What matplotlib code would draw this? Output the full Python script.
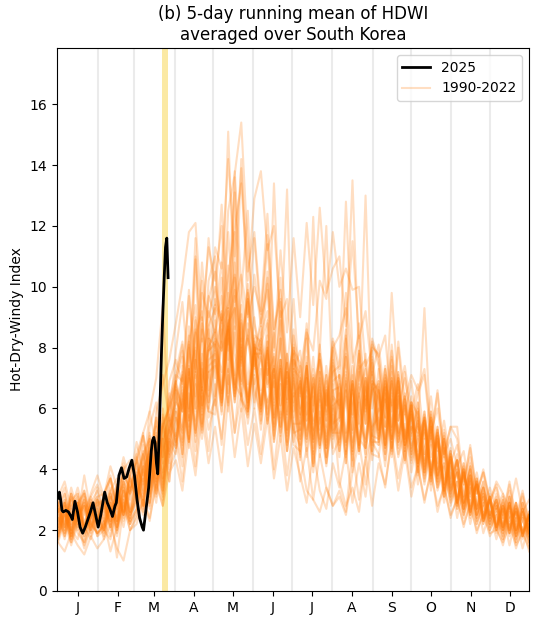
import numpy as np
import matplotlib
matplotlib.use("Agg")
import matplotlib.pyplot as plt

# 2025 HDWI (5-day running mean), day of year -> value
obs_days = [1, 2, 3, 4, 5, 7, 9, 11, 12, 14, 16, 18, 20, 22, 24, 26, 28, 30, 32, 34,
            37, 39, 41, 43, 45, 46, 48, 50, 52, 54, 56, 58, 60, 62, 64, 66, 67, 69, 71,
            73, 74, 75, 76, 77, 78, 79, 80, 81, 82, 83, 84, 85, 86]
obs_2025 = [3.05, 3.25, 3.0, 2.65, 2.6, 2.65, 2.6, 2.45, 2.35, 2.95, 2.6, 2.1, 1.9, 2.1,
            2.35, 2.6, 2.9, 2.5, 2.1, 2.5, 3.25, 2.9, 2.7, 2.45, 2.8, 2.9, 3.8, 4.05, 3.7,
            3.75, 4.05, 4.3, 3.8, 3.0, 2.4, 2.1, 2.0, 2.7, 3.4, 4.6, 4.95, 5.05, 4.85, 4.2,
            3.85, 5.0, 6.5, 8.0, 9.2, 10.3, 11.3, 11.6, 10.3]

# 1990-2022 series, one value every ~5 days (Jan .. Dec)
hdwi_1990 = [2.3, 2.9, 2.0, 1.7, 2.6, 3.1, 2.4, 2.0, 3.0, 3.5, 2.4, 3.8, 2.9, 4.3, 5.1, 3.6, 5.8, 4.4,
             6.6, 4.9, 8.1, 6.0, 9.0, 6.2, 8.4, 10.3, 6.5, 11.8, 5.9, 8.8, 6.6, 5.8, 8.4, 5.0, 7.6, 4.6, 6.9,
             4.4, 7.3, 4.1, 6.8, 4.8, 7.5, 6.4, 4.2, 7.1, 4.8, 7.8, 5.1, 6.9, 4.5, 7.4, 5.3, 4.3, 6.2,
             5.8, 3.9, 5.6, 3.6, 4.9, 3.1, 4.3, 2.7, 3.8, 2.4, 3.4, 2.2, 3.1, 2.0, 2.9, 1.8, 2.7, 2.0]
hdwi_1991 = [2.8, 2.1, 3.2, 2.6, 1.9, 2.4, 3.0, 2.3, 1.8, 2.9, 3.6, 2.7, 3.9, 2.8, 4.6, 5.6, 4.0, 6.5,
             4.8, 7.4, 5.6, 8.5, 5.9, 8.7, 9.3, 6.6, 10.7, 7.8, 6.8, 9.6, 6.0, 8.1, 5.5, 7.3, 4.9, 7.8, 5.3,
             6.9, 4.4, 6.0, 7.9, 12.0, 6.4, 4.4, 6.6, 3.9, 5.8, 7.0, 4.6, 6.1, 7.4, 5.0, 8.2, 6.3, 7.1,
             6.6, 7.3, 5.2, 6.0, 4.5, 5.0, 4.1, 4.6, 3.2, 3.9, 2.8, 3.4, 2.7, 3.2, 2.3, 2.9, 1.9, 2.5]
hdwi_1992 = [3.1, 3.6, 2.7, 3.4, 2.5, 3.2, 3.8, 3.1, 4.1, 3.4, 4.4, 3.6, 4.9, 3.8, 5.9, 4.7, 7.1, 5.6,
             7.9, 9.5, 7.1, 11.0, 8.2, 11.6, 9.4, 12.7, 9.3, 13.8, 10.0, 8.1, 10.4, 8.7, 10.3, 7.2, 9.5, 6.3, 8.4,
             7.2, 8.6, 5.9, 7.8, 6.1, 8.2, 7.0, 8.6, 5.8, 7.9, 6.0, 8.3, 7.6, 5.7, 9.8, 6.5, 7.4, 5.9,
             6.8, 5.0, 6.4, 4.6, 5.6, 4.2, 4.8, 3.6, 4.4, 3.2, 3.9, 2.9, 3.6, 3.2, 2.7, 3.7, 2.6, 3.0]
hdwi_1993 = [1.6, 1.3, 1.9, 1.5, 1.2, 1.8, 1.4, 1.7, 2.2, 1.4, 1.0, 2.0, 2.2, 3.0, 2.4, 3.5, 2.8, 3.9,
             4.3, 3.3, 5.1, 3.8, 5.8, 4.2, 5.4, 3.9, 6.4, 4.4, 6.0, 4.1, 5.5, 4.2, 5.7, 3.7, 5.1, 3.3, 4.7,
             3.8, 2.9, 4.6, 3.3, 2.7, 4.2, 3.4, 4.6, 2.9, 4.2, 3.1, 4.9, 4.5, 3.4, 5.1, 3.7, 4.8, 3.4,
             4.1, 3.0, 3.9, 2.8, 3.4, 2.5, 3.0, 2.2, 2.8, 2.0, 2.5, 1.9, 2.0, 1.6, 2.2, 1.5, 1.9, 1.4]
hdwi_1994 = [2.4, 1.9, 2.7, 2.1, 2.8, 2.0, 2.5, 2.9, 2.1, 3.2, 2.5, 3.4, 3.6, 4.5, 3.3, 4.9, 3.7, 5.4,
             6.2, 7.1, 5.4, 7.9, 5.8, 8.3, 7.0, 9.2, 7.2, 10.3, 7.6, 9.8, 7.8, 8.3, 10.5, 7.9, 11.2, 8.5, 11.6,
             9.0, 12.1, 9.4, 12.6, 9.8, 10.6, 11.0, 8.7, 11.5, 8.3, 9.2, 7.1, 8.1, 6.2, 7.9, 5.6, 7.2, 5.3,
             6.2, 4.5, 5.9, 4.0, 5.3, 3.7, 4.3, 3.1, 4.0, 2.7, 3.6, 2.5, 3.0, 2.2, 2.9, 2.0, 2.7, 1.9]
hdwi_1995 = [2.6, 3.2, 2.2, 2.9, 2.0, 2.7, 2.2, 3.0, 2.3, 3.3, 2.5, 3.7, 3.0, 4.1, 3.2, 4.8, 5.5, 4.0,
             4.6, 6.3, 7.3, 5.3, 7.8, 5.7, 6.3, 8.4, 9.3, 6.5, 8.9, 6.0, 8.1, 5.9, 8.0, 5.3, 7.3, 4.9, 7.0,
             5.0, 6.8, 12.3, 7.0, 4.2, 5.8, 4.6, 6.4, 4.1, 6.2, 4.4, 6.8, 4.8, 6.7, 4.6, 6.5, 4.3, 5.9,
             4.2, 5.7, 3.8, 5.2, 3.2, 4.5, 2.9, 4.0, 2.6, 3.5, 2.3, 3.1, 2.2, 3.0, 2.0, 2.7, 1.8, 2.4]
hdwi_1996 = [1.8, 2.6, 1.9, 2.9, 2.1, 1.7, 2.4, 2.7, 2.0, 3.1, 3.5, 2.4, 3.8, 2.7, 4.7, 3.3, 5.4, 6.1,
             6.9, 5.0, 8.2, 9.4, 6.6, 10.2, 11.0, 8.0, 12.5, 13.7, 15.4, 11.2, 8.8, 7.8, 10.1, 7.0, 8.9, 6.2, 8.0,
             5.8, 7.4, 5.1, 6.9, 4.7, 6.6, 5.0, 7.1, 4.6, 6.5, 7.3, 4.9, 4.9, 6.6, 5.0, 7.0, 4.6, 5.8,
             3.9, 5.6, 3.6, 5.0, 3.1, 4.2, 2.7, 3.9, 2.5, 3.5, 2.2, 2.9, 1.9, 2.6, 1.8, 2.4, 1.7, 2.2]
hdwi_1997 = [2.0, 2.8, 1.8, 2.5, 3.0, 2.2, 1.9, 2.1, 2.9, 2.2, 3.3, 2.5, 3.0, 4.0, 4.6, 3.4, 5.0, 5.7,
             4.9, 6.7, 5.0, 10.9, 6.0, 7.9, 8.2, 6.2, 8.9, 6.8, 6.4, 8.6, 6.2, 7.3, 6.2, 6.9, 5.4, 7.2, 5.3,
             4.8, 6.7, 4.5, 6.3, 4.7, 6.6, 6.7, 4.6, 6.9, 5.0, 4.7, 6.9, 6.5, 4.7, 6.8, 4.8, 6.3, 4.5,
             5.6, 4.2, 5.4, 3.8, 5.0, 3.4, 3.9, 2.9, 3.6, 2.7, 3.2, 2.4, 2.9, 2.1, 2.8, 2.0, 2.5, 2.1]
hdwi_1998 = [2.6, 1.9, 2.8, 3.1, 2.1, 2.7, 1.8, 2.0, 2.9, 2.1, 3.1, 3.3, 3.8, 2.8, 4.4, 4.9, 3.3, 5.1,
             6.6, 4.5, 7.3, 5.1, 8.3, 6.0, 8.0, 8.9, 5.9, 8.5, 6.3, 5.7, 7.8, 5.5, 7.5, 4.9, 6.8, 4.6, 6.4,
             4.3, 6.2, 3.9, 5.7, 4.1, 6.0, 3.6, 2.8, 3.4, 2.6, 4.3, 5.2, 6.0, 4.3, 6.4, 4.5, 5.5, 3.9,
             5.1, 3.6, 5.0, 3.4, 4.2, 2.9, 3.6, 2.5, 3.4, 2.2, 2.9, 2.0, 2.6, 1.8, 2.7, 1.7, 2.4, 1.6]
hdwi_1999 = [3.0, 2.3, 3.4, 2.6, 3.3, 2.4, 3.1, 3.2, 3.7, 2.6, 3.9, 3.3, 4.4, 3.3, 5.2, 4.0, 6.0, 4.6,
             7.0, 7.9, 5.7, 8.6, 6.5, 9.2, 8.5, 9.7, 7.6, 13.6, 7.4, 9.5, 7.1, 8.1, 8.9, 6.2, 8.3, 5.8, 7.8,
             5.7, 7.7, 5.3, 7.2, 5.4, 7.4, 5.6, 7.7, 5.2, 7.3, 7.6, 5.4, 7.3, 5.4, 7.7, 5.6, 6.4, 5.1,
             6.2, 4.5, 5.9, 4.2, 5.2, 3.6, 4.5, 3.1, 4.2, 2.8, 3.6, 2.5, 3.2, 2.4, 3.3, 2.2, 3.1, 2.2]
hdwi_2000 = [2.1, 2.9, 2.0, 2.8, 1.8, 2.6, 3.0, 2.7, 3.3, 3.7, 2.6, 4.0, 4.2, 5.1, 3.8, 5.9, 6.8, 7.6,
             8.8, 10.1, 11.8, 12.1, 8.9, 11.3, 10.2, 12.0, 8.1, 10.8, 7.7, 9.9, 7.4, 8.4, 9.2, 6.3, 8.3, 5.7, 7.6,
             7.1, 5.0, 7.0, 4.8, 6.9, 5.1, 7.1, 4.8, 6.9, 4.6, 7.0, 5.0, 4.8, 6.7, 4.7, 6.9, 4.8, 5.8,
             3.8, 5.5, 3.5, 5.0, 3.1, 4.3, 2.7, 3.9, 2.4, 3.5, 2.2, 3.0, 2.0, 2.8, 1.9, 2.8, 1.8, 2.5]
hdwi_2001 = [1.7, 2.5, 1.8, 2.8, 2.0, 2.9, 2.1, 2.9, 2.1, 3.4, 2.5, 3.9, 4.5, 3.2, 5.4, 6.2, 4.4, 6.9,
             7.6, 6.8, 9.9, 7.2, 10.8, 8.3, 11.3, 10.6, 14.2, 11.0, 13.9, 10.5, 11.8, 9.2, 12.4, 8.6, 9.9, 7.0, 8.0,
             5.8, 7.0, 5.5, 6.4, 4.9, 6.1, 4.8, 6.8, 4.5, 6.5, 4.7, 6.7, 6.3, 4.5, 6.5, 4.7, 5.8, 4.4,
             5.4, 3.8, 5.2, 3.5, 4.4, 3.1, 3.9, 2.6, 3.7, 2.4, 3.0, 2.2, 2.7, 1.9, 2.8, 1.8, 2.6, 1.8]
hdwi_2002 = [2.9, 2.1, 3.2, 2.2, 3.0, 2.0, 2.8, 3.0, 2.2, 3.4, 3.8, 2.6, 3.2, 4.8, 3.4, 5.4, 3.9, 5.8,
             5.1, 7.2, 4.9, 7.6, 5.4, 8.0, 8.5, 6.2, 8.7, 6.4, 9.1, 6.3, 8.3, 6.0, 8.2, 5.7, 7.6, 5.3, 7.3,
             5.1, 7.0, 4.7, 6.5, 4.4, 6.3, 4.6, 6.6, 4.3, 6.4, 4.5, 6.6, 6.8, 4.8, 7.0, 4.9, 6.1, 4.3,
             5.2, 5.6, 3.7, 5.1, 3.3, 4.4, 3.9, 2.8, 3.8, 2.5, 3.1, 2.4, 2.8, 2.0, 2.9, 1.9, 2.7, 1.8]
hdwi_2003 = [2.4, 1.7, 2.6, 1.9, 1.6, 2.5, 1.8, 2.3, 1.3, 2.1, 2.9, 2.0, 2.5, 3.7, 2.7, 4.2, 3.0, 4.6,
             5.2, 4.1, 6.5, 4.6, 6.7, 5.3, 6.3, 5.0, 7.1, 5.2, 6.5, 4.8, 6.0, 4.5, 6.3, 4.0, 5.9, 3.8, 5.5,
             3.6, 4.7, 3.0, 4.5, 3.4, 2.8, 3.3, 2.6, 4.6, 3.0, 4.4, 2.8, 4.2, 3.5, 4.9, 3.3, 4.6, 3.1,
             4.1, 2.9, 4.0, 2.6, 3.5, 2.4, 3.1, 2.1, 3.0, 1.9, 2.6, 1.8, 2.2, 1.5, 2.4, 1.4, 2.1, 1.3]
hdwi_2004 = [2.2, 3.0, 2.0, 2.9, 3.2, 2.3, 1.9, 2.2, 3.2, 2.3, 3.6, 2.6, 3.0, 4.5, 5.0, 3.6, 5.7, 4.2,
             6.5, 5.4, 8.2, 5.9, 7.6, 8.6, 6.4, 9.1, 6.8, 9.7, 7.0, 6.4, 8.4, 8.2, 6.0, 7.8, 5.7, 7.5, 5.5,
             5.5, 7.5, 5.0, 7.0, 5.2, 7.2, 7.4, 12.8, 7.9, 5.5, 6.6, 5.3, 6.6, 5.4, 6.3, 5.2, 6.4, 4.6,
             5.9, 4.0, 5.7, 3.8, 5.0, 3.3, 4.3, 2.9, 4.0, 2.7, 3.4, 2.4, 3.0, 2.1, 3.1, 2.0, 2.9, 2.0]
hdwi_2005 = [1.9, 2.6, 1.6, 2.4, 2.8, 1.8, 2.5, 1.8, 2.8, 2.0, 3.0, 2.2, 3.3, 2.5, 4.0, 2.9, 4.6, 5.3,
             5.9, 4.4, 6.9, 11.6, 6.1, 7.2, 6.1, 8.6, 6.2, 9.3, 6.5, 5.8, 8.2, 5.6, 7.8, 5.1, 7.2, 4.8, 6.8,
             4.6, 6.6, 4.2, 6.1, 4.4, 6.4, 6.1, 4.2, 6.5, 4.5, 6.3, 4.3, 5.9, 6.5, 4.4, 6.3, 4.7, 5.4,
             5.2, 3.7, 5.1, 3.4, 4.2, 3.0, 3.6, 2.5, 3.5, 2.3, 2.9, 2.1, 2.5, 1.7, 2.6, 1.6, 2.4, 1.6]
hdwi_2006 = [2.7, 2.0, 3.0, 3.2, 2.2, 2.9, 2.1, 2.9, 2.1, 3.1, 2.3, 3.4, 4.2, 3.0, 4.9, 3.5, 5.4, 6.0,
             6.8, 7.7, 5.6, 8.4, 9.2, 6.6, 8.9, 6.5, 9.8, 7.1, 9.4, 6.8, 9.0, 6.6, 8.8, 6.1, 8.1, 13.2, 6.4,
             6.8, 4.9, 7.1, 4.7, 6.5, 4.5, 5.0, 7.0, 4.7, 6.8, 4.9, 7.1, 4.9, 6.9, 5.0, 7.0, 4.8, 6.1,
             3.9, 5.6, 3.6, 5.1, 3.1, 4.4, 2.8, 4.0, 2.5, 3.6, 2.3, 3.0, 2.0, 2.8, 1.9, 2.7, 1.8, 2.5]
hdwi_2007 = [2.1, 2.9, 1.9, 2.7, 2.0, 3.0, 2.2, 3.1, 2.3, 3.5, 2.5, 3.7, 3.0, 4.6, 3.2, 5.1, 3.6, 5.6,
             4.9, 7.0, 5.0, 7.6, 5.5, 7.9, 8.1, 5.8, 8.6, 6.2, 8.8, 6.0, 8.0, 5.9, 7.9, 5.5, 7.4, 5.2, 7.2,
             5.0, 7.0, 4.6, 6.6, 4.7, 6.8, 4.9, 6.9, 4.6, 6.7, 4.7, 6.8, 5.0, 7.0, 4.7, 6.7, 4.8, 5.9,
             4.2, 5.9, 3.9, 5.4, 3.5, 4.7, 3.0, 3.8, 3.1, 3.5, 2.5, 3.2, 2.2, 2.8, 2.4, 2.6, 2.0, 2.5]
hdwi_2008 = [1.8, 2.6, 1.7, 2.5, 2.8, 1.9, 2.7, 2.0, 1.7, 2.8, 2.1, 3.2, 3.6, 2.6, 4.4, 3.1, 5.0, 3.6,
             5.9, 4.5, 7.3, 5.2, 7.5, 5.9, 5.8, 8.2, 6.1, 8.7, 6.3, 5.9, 7.9, 7.6, 5.5, 7.1, 5.1, 6.9, 4.9,
             6.7, 4.6, 6.4, 4.4, 6.6, 4.7, 6.5, 4.5, 6.8, 4.8, 6.7, 4.6, 6.7, 4.8, 7.0, 5.1, 6.2, 4.5,
             5.7, 4.0, 5.6, 3.7, 4.7, 3.3, 4.0, 2.7, 3.8, 2.5, 3.2, 2.2, 2.7, 1.9, 2.8, 1.8, 2.6, 1.7]
hdwi_2009 = [2.9, 3.4, 2.3, 3.2, 2.2, 3.1, 3.5, 3.0, 3.8, 2.8, 4.2, 3.2, 4.3, 5.1, 3.7, 5.7, 4.4, 6.3,
             6.9, 8.1, 5.9, 9.0, 6.7, 9.7, 9.1, 10.8, 7.9, 13.1, 8.2, 9.6, 7.8, 8.9, 9.9, 6.7, 9.2, 6.3, 8.6,
             6.0, 8.3, 5.6, 7.8, 5.8, 8.0, 6.0, 8.4, 5.7, 7.9, 5.9, 8.1, 7.7, 8.4, 5.9, 8.0, 5.8, 6.9,
             5.3, 9.3, 5.0, 6.5, 4.4, 5.4, 5.4, 3.5, 4.7, 3.2, 3.9, 2.9, 3.4, 2.4, 3.5, 2.3, 3.2, 2.2]
hdwi_2010 = [1.6, 2.3, 1.5, 2.2, 1.4, 2.1, 2.5, 1.7, 2.6, 1.1, 2.8, 2.0, 2.4, 3.0, 2.3, 3.7, 2.8, 4.4,
             5.0, 3.6, 5.8, 4.1, 6.4, 4.6, 6.8, 4.8, 7.3, 5.2, 7.6, 5.5, 7.1, 5.3, 7.3, 4.9, 6.8, 4.6, 6.5,
             4.5, 6.4, 4.1, 5.9, 4.2, 6.1, 6.3, 4.4, 6.6, 4.6, 6.4, 4.5, 4.4, 6.3, 4.5, 6.4, 4.2, 5.4,
             3.5, 5.0, 3.3, 4.6, 2.9, 3.9, 2.4, 3.5, 2.2, 3.1, 1.9, 2.6, 1.7, 2.5, 1.5, 2.4, 1.4, 2.2]
hdwi_2011 = [2.6, 1.8, 2.5, 2.9, 2.0, 2.8, 1.9, 2.2, 3.1, 2.1, 3.3, 2.4, 3.7, 4.5, 3.1, 4.9, 3.5, 5.2,
             6.0, 5.3, 7.4, 4.9, 7.3, 6.2, 7.9, 6.3, 9.2, 6.7, 8.3, 6.2, 8.1, 6.1, 8.2, 5.7, 7.6, 5.3, 7.3,
             7.0, 5.1, 6.8, 4.8, 6.7, 5.2, 5.2, 7.2, 4.9, 6.9, 13.0, 6.0, 6.9, 5.0, 7.2, 5.2, 6.3, 5.0,
             5.9, 4.1, 5.7, 3.8, 5.0, 3.4, 4.3, 2.9, 4.1, 2.7, 3.4, 2.5, 3.0, 2.1, 3.1, 2.0, 2.9, 1.9]
hdwi_2012 = [2.8, 3.2, 2.2, 3.0, 2.1, 2.9, 3.3, 2.5, 3.4, 2.3, 3.8, 3.4, 4.1, 3.5, 4.6, 5.2, 3.7, 5.7,
             6.8, 5.9, 8.7, 7.0, 9.8, 9.0, 10.0, 8.9, 10.4, 11.9, 13.4, 10.2, 12.9, 13.8, 11.2, 12.0, 9.0, 9.6, 7.3,
             7.9, 5.8, 7.7, 5.5, 7.1, 5.2, 5.6, 7.8, 5.3, 7.4, 5.5, 7.6, 5.2, 7.3, 5.4, 7.2, 4.9, 6.4,
             4.1, 5.7, 3.9, 5.3, 3.3, 4.5, 2.9, 4.1, 2.6, 3.7, 2.4, 3.1, 2.0, 2.9, 1.9, 2.9, 1.8, 2.6]
hdwi_2013 = [2.0, 2.8, 1.9, 2.6, 1.8, 2.5, 2.9, 2.2, 3.1, 2.3, 3.4, 2.5, 2.9, 4.2, 3.1, 4.7, 3.4, 5.3,
             4.7, 6.6, 4.9, 7.2, 5.3, 7.6, 7.8, 6.1, 8.7, 6.6, 8.1, 6.2, 8.0, 7.9, 5.8, 7.4, 5.4, 7.2, 5.2,
             5.3, 7.4, 4.9, 7.6, 5.6, 8.0, 8.4, 9.3, 6.6, 8.8, 6.3, 8.2, 7.4, 5.4, 7.6, 5.6, 6.5, 5.2,
             6.0, 4.3, 5.8, 4.0, 5.1, 3.5, 4.3, 2.9, 4.1, 2.7, 3.4, 2.5, 3.0, 2.1, 3.1, 2.0, 2.9, 1.9]
hdwi_2014 = [2.5, 1.8, 2.8, 2.0, 2.9, 2.2, 1.9, 2.1, 2.9, 2.0, 3.1, 2.3, 2.7, 4.1, 2.9, 4.6, 3.3, 5.0,
             5.7, 5.2, 7.2, 5.6, 6.8, 8.0, 8.6, 6.3, 9.3, 6.8, 9.8, 12.5, 7.4, 8.3, 7.1, 7.7, 6.1, 7.2, 6.2,
             7.4, 5.3, 7.0, 5.0, 7.1, 5.3, 7.1, 4.9, 6.9, 4.7, 7.0, 5.1, 5.0, 6.9, 5.1, 6.9, 4.8, 6.0,
             4.0, 5.7, 3.8, 5.2, 3.3, 4.4, 2.8, 4.0, 2.5, 3.6, 2.3, 3.0, 2.0, 2.8, 1.9, 2.7, 1.8, 2.4]
hdwi_2015 = [2.9, 2.2, 3.2, 2.4, 3.8, 2.6, 2.3, 3.2, 3.7, 2.7, 4.1, 3.0, 4.5, 5.2, 3.8, 5.7, 4.2, 6.3,
             7.2, 8.2, 6.0, 8.9, 6.6, 9.6, 10.5, 7.9, 11.8, 8.6, 14.2, 9.1, 11.6, 8.8, 11.4, 8.0, 10.3, 7.3, 9.6,
             6.5, 8.8, 6.1, 8.1, 5.9, 7.9, 6.1, 8.3, 5.8, 7.8, 5.9, 8.0, 7.8, 5.7, 8.1, 6.0, 7.0, 5.6,
             6.5, 7.1, 5.0, 6.6, 4.5, 5.4, 5.0, 3.5, 4.8, 3.2, 4.0, 3.0, 3.5, 2.5, 3.6, 2.4, 3.3, 2.3]
hdwi_2016 = [1.9, 2.7, 1.8, 2.5, 2.9, 2.0, 2.8, 2.0, 2.9, 2.1, 3.3, 2.3, 3.5, 3.0, 4.4, 3.2, 5.0, 3.6,
             5.7, 4.8, 7.0, 5.2, 6.6, 5.9, 7.6, 6.5, 8.8, 6.3, 8.0, 5.9, 7.8, 6.0, 8.0, 5.4, 7.3, 5.1, 7.1,
             5.3, 7.4, 4.9, 7.2, 6.1, 8.3, 7.3, 9.8, 7.5, 8.4, 6.1, 7.2, 5.3, 6.3, 4.9, 6.4, 4.6, 6.1,
             4.3, 5.2, 4.0, 4.9, 3.5, 4.1, 3.0, 3.9, 2.8, 3.6, 2.3, 3.1, 2.1, 2.7, 2.1, 2.6, 1.9, 2.4]
hdwi_2017 = [2.6, 3.0, 2.1, 2.9, 2.0, 2.8, 3.1, 2.4, 3.3, 2.3, 3.6, 3.2, 4.0, 3.6, 4.8, 3.7, 5.4, 4.5,
             6.9, 5.9, 8.4, 6.4, 8.8, 7.2, 9.4, 8.8, 15.1, 9.5, 10.4, 9.0, 10.0, 9.1, 11.7, 8.6, 9.6, 6.8, 7.9,
             7.5, 5.6, 7.3, 5.3, 7.4, 5.5, 5.7, 7.7, 5.3, 7.2, 5.5, 7.5, 5.3, 7.3, 5.4, 7.1, 5.0, 6.2,
             4.2, 5.9, 4.0, 5.4, 3.4, 4.6, 2.9, 4.2, 2.7, 3.7, 2.5, 3.1, 2.1, 3.1, 2.0, 2.9, 1.9, 2.6]
hdwi_2018 = [1.7, 2.5, 1.6, 2.3, 1.5, 2.2, 2.6, 1.9, 2.7, 1.8, 2.9, 2.2, 2.6, 3.9, 2.8, 4.3, 3.1, 4.9,
             4.5, 6.3, 4.7, 6.8, 5.0, 7.2, 7.4, 5.9, 8.3, 6.2, 7.7, 5.9, 7.9, 6.1, 7.9, 5.8, 7.6, 5.9, 8.1,
             6.4, 8.5, 7.9, 10.2, 9.6, 11.8, 10.0, 10.6, 9.9, 10.0, 7.4, 7.9, 5.9, 6.8, 6.1, 6.6, 5.1, 6.2,
             4.6, 5.3, 4.4, 4.9, 3.7, 4.3, 3.1, 3.9, 3.0, 3.5, 2.4, 3.0, 2.1, 2.7, 2.2, 2.6, 1.9, 2.3]
hdwi_2019 = [2.8, 2.1, 3.1, 2.3, 3.2, 2.2, 3.0, 2.3, 3.2, 2.4, 3.4, 2.6, 3.9, 2.8, 4.5, 3.2, 5.0, 5.4,
             6.2, 5.9, 8.0, 6.0, 8.6, 6.4, 8.3, 7.9, 8.6, 9.9, 7.5, 8.4, 7.3, 8.0, 7.1, 13.4, 8.0, 5.8, 7.6,
             5.5, 7.4, 5.0, 6.7, 5.1, 6.9, 7.1, 5.2, 7.4, 5.5, 5.0, 6.9, 6.6, 4.8, 6.9, 5.0, 6.1, 4.8,
             5.6, 3.9, 5.4, 3.7, 4.7, 3.2, 4.0, 2.7, 3.8, 2.5, 3.2, 2.3, 2.8, 2.0, 2.9, 1.9, 2.7, 1.9]
hdwi_2020 = [1.8, 2.6, 1.7, 2.5, 1.6, 2.4, 2.7, 2.0, 2.8, 1.9, 3.0, 2.2, 2.7, 4.0, 2.9, 4.4, 3.2, 5.0,
             4.7, 6.5, 4.9, 7.1, 5.2, 7.4, 7.6, 6.1, 8.6, 6.4, 7.9, 6.1, 7.8, 7.8, 5.6, 7.3, 5.2, 7.0, 4.8,
             4.6, 3.3, 3.0, 2.6, 3.4, 2.8, 3.1, 2.5, 3.9, 4.9, 3.5, 5.4, 5.7, 4.1, 6.1, 4.4, 5.3, 4.2,
             5.0, 3.5, 4.8, 3.3, 4.1, 2.8, 3.6, 2.4, 3.4, 2.2, 2.8, 2.0, 2.5, 1.7, 2.6, 1.6, 2.4, 1.5]
hdwi_2021 = [2.7, 2.0, 3.0, 2.2, 3.1, 2.1, 2.9, 3.0, 2.3, 3.4, 2.6, 3.8, 4.3, 3.1, 5.0, 3.7, 5.5, 6.0,
             6.7, 6.0, 7.0, 8.0, 6.1, 8.3, 8.1, 7.2, 8.8, 9.3, 6.9, 8.3, 6.8, 7.7, 6.8, 7.3, 5.8, 7.5, 5.9,
             7.0, 5.6, 6.7, 7.6, 5.6, 7.6, 5.7, 8.1, 13.5, 7.5, 5.5, 7.7, 5.1, 7.1, 5.3, 7.2, 5.0, 6.1,
             4.1, 5.8, 3.8, 5.3, 3.4, 4.6, 2.9, 4.2, 2.6, 3.7, 2.4, 3.0, 2.1, 3.0, 2.0, 2.9, 1.9, 2.5]
hdwi_2022 = [2.1, 2.9, 2.0, 2.8, 3.3, 2.4, 3.4, 2.6, 3.7, 2.7, 4.0, 4.3, 3.5, 5.2, 5.9, 7.0, 9.4, 5.2,
             7.1, 6.9, 9.7, 7.3, 10.2, 7.9, 9.6, 8.9, 9.4, 10.4, 8.0, 10.1, 7.8, 8.7, 6.7, 8.5, 6.1, 7.8, 5.7,
             6.9, 5.0, 6.7, 4.7, 6.6, 5.0, 6.8, 4.9, 6.8, 4.6, 6.9, 4.8, 6.6, 4.7, 6.9, 4.9, 6.0, 4.7,
             5.5, 3.9, 5.3, 3.6, 4.6, 3.2, 3.9, 2.7, 3.7, 2.5, 3.1, 2.3, 2.8, 2.0, 2.9, 1.8, 2.6, 1.8]

clim_series = [hdwi_1990, hdwi_1991, hdwi_1992, hdwi_1993, hdwi_1994, hdwi_1995, hdwi_1996,
               hdwi_1997, hdwi_1998, hdwi_1999, hdwi_2000, hdwi_2001, hdwi_2002, hdwi_2003,
               hdwi_2004, hdwi_2005, hdwi_2006, hdwi_2007, hdwi_2008, hdwi_2009, hdwi_2010,
               hdwi_2011, hdwi_2012, hdwi_2013, hdwi_2014, hdwi_2015, hdwi_2016, hdwi_2017,
               hdwi_2018, hdwi_2019, hdwi_2020, hdwi_2021, hdwi_2022]

month_labels = ['J', 'F', 'M', 'A', 'M', 'J', 'J', 'A', 'S', 'O', 'N', 'D']
month_starts = [1, 32, 60, 91, 121, 152, 182, 213, 244, 274, 305, 335]
fire_span = (81, 86)

clim_days = np.linspace(1, 365, len(hdwi_1990))

fig = plt.figure(figsize=(5.41, 6.25), dpi=100)
ax = fig.add_axes([0.105, 0.0544, 0.873, 0.8688])

# month boundaries + wildfire period
for d in month_starts[1:]:
    ax.axvline(d, color='#ebebeb', lw=1.5, zorder=0)
ax.axvspan(fire_span[0], fire_span[1], color='#fbe79a', alpha=0.9, lw=0, zorder=0.5)

for i, s in enumerate(clim_series):
    ax.plot(clim_days, s, color='#ff7f0e', alpha=0.25, lw=1.5, zorder=2,
            label='1990-2022' if i == 0 else None)

ax.plot(obs_days, obs_2025, color='black', lw=2, zorder=3, label='2025')

ax.set_xlim(0, 365)
ax.set_ylim(0, 17.85)
ax.set_yticks(range(0, 17, 2))
mids = [s + 15 for s in month_starts]
ax.set_xticks(mids)
ax.set_xticklabels(month_labels)
ax.set_ylabel('Hot-Dry-Windy Index')
ax.set_title('(b) 5-day running mean of HDWI\naveraged over South Korea', fontsize=12)

h, l = ax.get_legend_handles_labels()
ax.legend([h[1], h[0]], [l[1], l[0]], loc='upper right', fontsize=10)

fig.savefig('out.png', dpi=100)
